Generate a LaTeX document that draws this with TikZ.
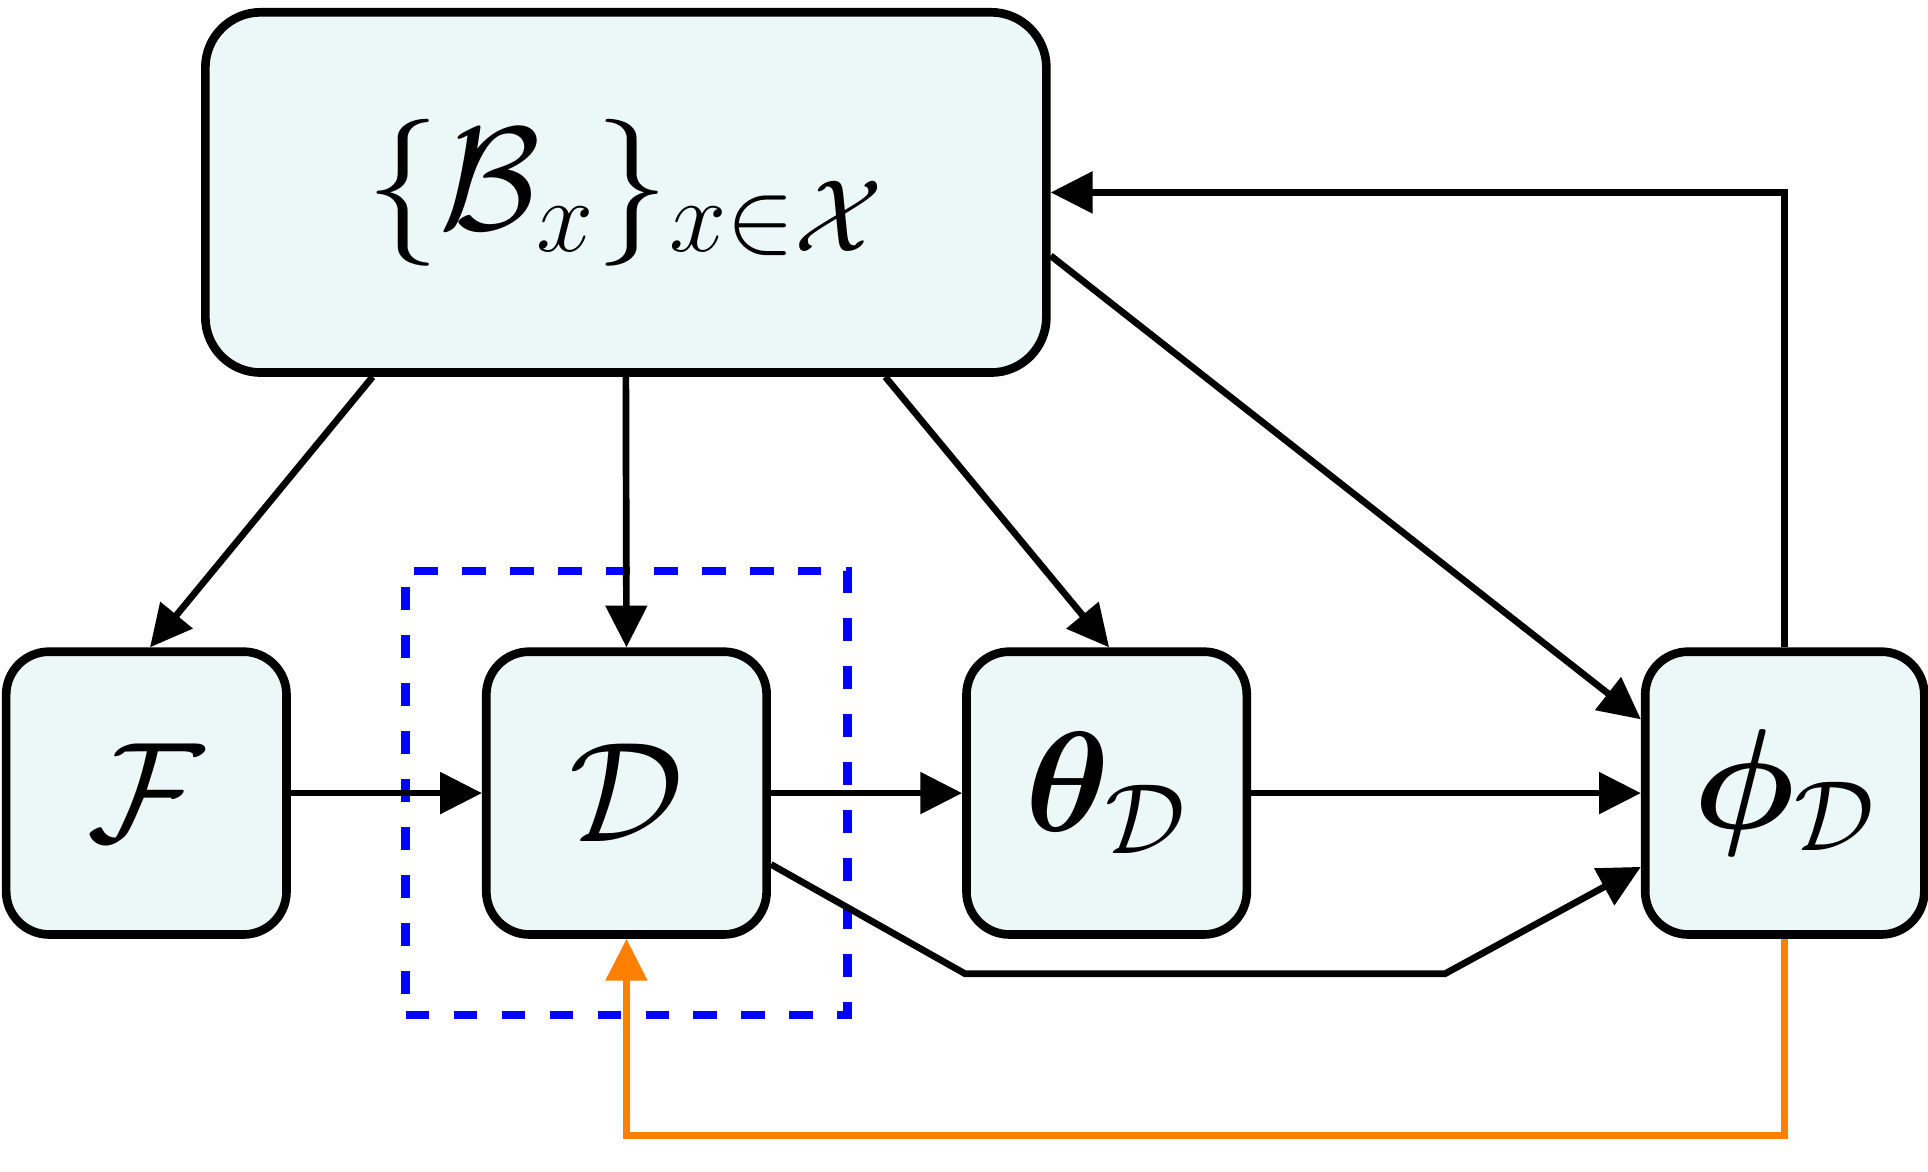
\RequirePackage{fix-cm}
\documentclass[tikz,border=0pt]{standalone}
\usepackage{xcolor}
\usepackage{bm}
\usetikzlibrary{arrows.meta,fit,positioning}

\definecolor{boxfill}{RGB}{236,248,247}
\definecolor{loopcol}{RGB}{255,128,0}

\begin{document}
\begin{tikzpicture}[
	box/.style={draw=black, fill=boxfill, line width=2pt, rounded corners=0.35cm, inner sep=0pt, minimum width=2.28cm, minimum height=2.30cm, font=\fontsize{33}{40}\selectfont},
	arr/.style={draw=black, line width=1.55pt, -{Triangle[length=0.34cm,width=0.33cm]}},
	dashbox/.style={draw=blue, line width=2pt, dash pattern=on 0.19cm off 0.2cm, inner sep=0.62cm}
	]
	
	% Parameters
	\def\rowy{-6.45}
	\def\loopdrop{1.6}
	\useasboundingbox (0,0) rectangle (15.68,-9.53);
	
	% top block
	\node[box, minimum width=6.84cm, minimum height=2.93cm, rounded corners=0.45cm, font=\fontsize{34}{40}\selectfont] (top) at (5.09,-1.565) {$\{\mathcal{B}_x\}_{x\in\mathcal{X}}$};
	
	% lower row
	\node[box] (F) at (1.19,\rowy) {$\mathcal{F}$};
	\node[box] (D) at (5.095,\rowy) {$\mathcal{D}$};
	\node[box] (theta) at (9.0,\rowy) {$\bm{\theta}_{\mathcal{D}}$};
	\node[box, minimum width=2.27cm] (phi) at (14.515,\rowy) {$\bm{\phi}_{\mathcal{D}}$};
	
	% dashed frame round D
	\node[dashbox, fit=(D)] (Dframe) {};
	
	% arrows out of the top block
	\draw[arr] ([xshift=-2.06cm]top.south) -- ([xshift=0.03cm]F.north);
	\draw[arr] (top.south) -- (D.north);
	\draw[arr] ([xshift=2.11cm]top.south) -- ([xshift=0.02cm]theta.north);
	\draw[arr] ([yshift=-0.515cm]top.east) -- ([yshift=0.6cm]phi.west);
	
	% back to the top block
	\draw[arr] (phi.north) |- (top.east);
	
	% along the row
	\foreach \a/\b in {F/D, D/theta, theta/phi} {
		\draw[arr] (\a.east) -- (\b.west);
	}
	
	% detour below theta
	\coordinate (kneeL) at (7.85,-7.92);
	\coordinate (kneeR) at (11.75,-7.92);
	\draw[arr] ([yshift=-0.58cm]D.east) -- (kneeL) -- (kneeR) -- ([yshift=-0.6cm]phi.west);
	
	% feedback loop
	\draw[arr, draw=loopcol, -{Triangle[length=0.34cm,width=0.33cm,fill=loopcol]}] (phi.south) -- ++(0,-\loopdrop) -| (D.south);
	
\end{tikzpicture}
\end{document}
